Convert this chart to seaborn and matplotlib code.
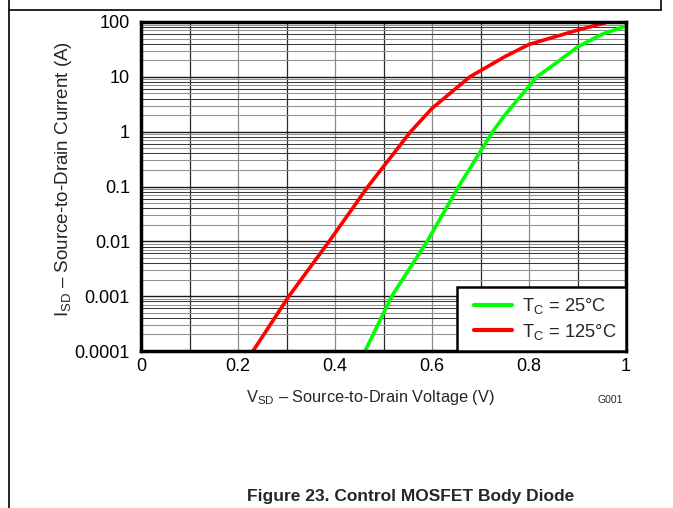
import numpy as np
import pandas as pd
import matplotlib
matplotlib.use("Agg")
import matplotlib.pyplot as plt
import seaborn as sns
from matplotlib.lines import Line2D
from matplotlib.ticker import FixedLocator, NullFormatter
from matplotlib.legend_handler import HandlerLine2D

# ---- data ----
v_25 = [0.462, 0.517, 0.590, 0.655, 0.725, 0.75, 0.816, 0.85, 0.90, 0.95, 1.0]
i_25 = [1e-4, 1e-3, 1e-2, 1e-1, 1.0, 2.0, 10.0, 16.4, 35.0, 59.6, 84.5]
v_125 = [0.231, 0.305, 0.388, 0.468, 0.556, 0.60, 0.678, 0.75, 0.80, 0.90, 0.963]
i_125 = [1e-4, 1e-3, 1e-2, 1e-1, 1.0, 2.66, 10.0, 23.3, 39.0, 71.0, 100.0]
series_labels = [r"$\mathregular{T_C}$ = 25°C", r"$\mathregular{T_C}$ = 125°C"]
x_ticks = [0, 0.2, 0.4, 0.6, 0.8, 1.0]
x_tick_labels = ["0", "0.2", "0.4", "0.6", "0.8", "1"]
y_ticks = [1e-4, 1e-3, 1e-2, 1e-1, 1, 10, 100]
y_tick_labels = ["0.0001", "0.001", "0.01", "0.1", "1", "10", "100"]

df = pd.DataFrame({
    "V": v_25 + v_125,
    "I": i_25 + i_125,
    "series": [series_labels[0]] * len(v_25) + [series_labels[1]] * len(v_125),
})

sns.set_style("white")
plt.rcParams["font.family"] = ["Liberation Sans", "DejaVu Sans"]
plt.rcParams["mathtext.fontset"] = "custom"
plt.rcParams["mathtext.rm"] = "Liberation Sans"

fig = plt.figure(figsize=(6.73, 5.08), dpi=100)
ax = fig.add_axes([141 / 673, 1 - 351 / 508, 485 / 673, 329 / 508])

ax.set_yscale("log")
ax.set_xlim(0, 1)
ax.set_ylim(1e-4, 100)

# grid: vertical lines alternating dark / grey
for k in range(1, 10):
    xv = k / 10
    ax.axvline(xv, color="#2a2a2a" if k % 2 else "#8a8a8a", lw=0.9, zorder=1)
# horizontal grid
for d in range(-4, 2):
    base = 10.0 ** d
    for m in range(2, 10):
        col = "#3a3a3a" if m in (4, 6, 8) else "#909090"
        ax.axhline(base * m, color=col, lw=0.75, zorder=1)
    if d > -4:
        ax.axhline(base, color="#1a1a1a", lw=1.0, zorder=1)

sns.lineplot(data=df, x="V", y="I", hue="series",
             palette={series_labels[0]: "#00ff00", series_labels[1]: "#ff0000"},
             estimator=None, sort=False, lw=2.6, ax=ax, zorder=3)

ax.xaxis.set_major_locator(FixedLocator(x_ticks))
ax.set_xticklabels(x_tick_labels)
ax.yaxis.set_major_locator(FixedLocator(y_ticks))
ax.yaxis.set_minor_formatter(NullFormatter())
ax.set_yticklabels(y_tick_labels)
ax.tick_params(axis="both", which="both", length=0, labelsize=13, colors="black")
ax.tick_params(axis="x", pad=5)
ax.tick_params(axis="y", pad=8)

for s in ax.spines.values():
    s.set_visible(True)
    s.set_color("black")
    s.set_linewidth(2.5)
    s.set_zorder(5)

ax.set_xlabel(r"$\mathregular{V_{SD}}$ – Source-to-Drain Voltage (V)", fontsize=11.8)
ax.xaxis.set_label_coords(0.472, -0.112)
ax.set_ylabel(r"$\mathregular{I_{SD}}$ – Source-to-Drain Current (A)", fontsize=13.5)
ax.yaxis.set_label_coords(-0.139, 0.522)

leg = ax.legend(loc="lower right", borderaxespad=0, frameon=True, fancybox=False,
                fontsize=13.2, handlelength=2.5, handletextpad=0.55,
                borderpad=0.5, labelspacing=0.3, framealpha=1,
                handler_map={Line2D: HandlerLine2D(xpad=0.44)})
leg.get_frame().set_edgecolor("black")
leg.get_frame().set_linewidth(1.8)
leg.set_zorder(6)
for h in leg.get_lines():
    h.set_linewidth(3)

fig.text(610 / 673, 1 - 400 / 508, "G001", fontsize=7.5, ha="center", va="center")
fig.text(411 / 673, 1 - 497 / 508, "Figure 23. Control MOSFET Body Diode",
         fontsize=12.5, fontweight="bold", ha="center", va="center")

# page border lines
fig.add_artist(Line2D([8.6 / 673, 8.6 / 673], [0, 1], transform=fig.transFigure, color="black", lw=1.2))
fig.add_artist(Line2D([8.6 / 673, 661 / 673], [1 - 10 / 508, 1 - 10 / 508], transform=fig.transFigure, color="black", lw=1.2))
fig.add_artist(Line2D([661 / 673, 661 / 673], [1 - 10 / 508, 1], transform=fig.transFigure, color="black", lw=1.2))

fig.savefig("out.png", dpi=100)
